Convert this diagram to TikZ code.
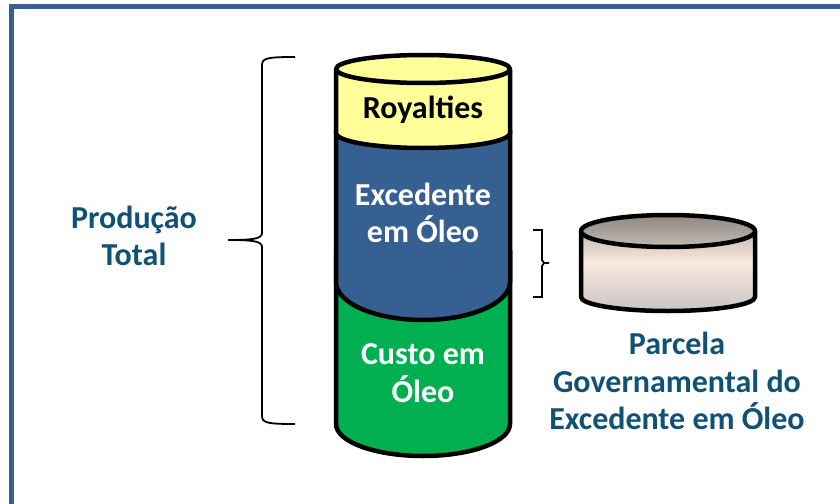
\documentclass[tikz,border=0pt]{standalone}
\usepackage{fontspec}
\setmainfont{Carlito}
\definecolor{framecol}{RGB}{60,96,142}
\definecolor{txtblue}{RGB}{16,82,118}
\definecolor{royal}{RGB}{255,255,153}
\definecolor{excblue}{RGB}{55,96,146}
\definecolor{custgreen}{RGB}{0,176,80}
\definecolor{capdark}{RGB}{140,135,131}
\definecolor{caplight}{RGB}{196,187,179}
\definecolor{bodytop}{RGB}{168,160,154}
\definecolor{bodymid}{RGB}{251,234,222}
\definecolor{bodybot}{RGB}{200,196,196}
\begin{document}
\begin{tikzpicture}[x=1pt,y=-1pt,
  can/.style={draw=black, line width=4.5pt, line join=round},
  lbl/.style={font=\bfseries\fontsize{32}{37.5}\selectfont, align=center, inner sep=0pt},
  brace/.style={draw=black, line width=1.8pt}]
\clip (0,0) rectangle (840,503);
\useasboundingbox (0,0) rectangle (840,503);
\fill[white] (0,0) rectangle (840,503);
\draw[framecol, line width=5pt] (11,7) rectangle (880,540);
% main cylinder: green part
\path[can, fill=custgreen] (336,250) -- (336,424) arc[start angle=180, end angle=0, x radius=87, y radius=32] -- (510,250);
% blue part
\path[can, fill=excblue] (336,130) -- (336,282) arc[start angle=180, end angle=0, x radius=87, y radius=38] -- (510,130);
% yellow part
\path[can, fill=royal] (336,69) -- (336,133) arc[start angle=180, end angle=0, x radius=87, y radius=15] -- (510,69);
\path[can, fill=royal] (423,69) ellipse[x radius=87, y radius=14];
% small cylinder
\path[top color=bodytop, bottom color=bodybot, middle color=bodymid] (581,231) -- (581,297) arc[start angle=180, end angle=0, x radius=87, y radius=14] -- (755,231) arc[start angle=0, end angle=-180, x radius=87, y radius=16] -- cycle;
\path[can] (581,231) -- (581,297) arc[start angle=180, end angle=0, x radius=87, y radius=14] -- (755,231);
\path[can, top color=capdark, bottom color=caplight] (668,231) ellipse[x radius=87, y radius=16];
% braces
\coordinate (bt) at (295,57);
\coordinate (btip) at (228,240);
\coordinate (bb) at (295,424);
\draw[brace] (bt) .. controls (268,57) and (262,58) .. (262,65) -- (262,233)
  .. controls (262,239) and (252,240) .. (btip)
  .. controls (252,240) and (262,241) .. (262,247) -- (262,416)
  .. controls (262,423) and (268,424) .. (bb);
\coordinate (st) at (533,230);
\coordinate (stip) at (549,263);
\coordinate (sb) at (533,297);
\draw[brace] (st) -- (542,230) -- (542,260) -- (544,263) -- (stip);
\draw[brace] (544,263) -- (542,266) -- (542,297) -- (sb);
% labels
\node[lbl] (roy) at (423,110) {Royalties};
\node[lbl, text=white] (exc) at (423,213) {Excedente\\em Óleo};
\node[lbl, text=white] (cus) at (423,373) {Custo em\\Óleo};
\node[lbl, text=txtblue] (prod) at (134,236) {Produção\\Total};
\node[lbl, text=txtblue] (parc) at (677,381) {Parcela\\Governamental do\\Excedente em Óleo};
\end{tikzpicture}
\end{document}
